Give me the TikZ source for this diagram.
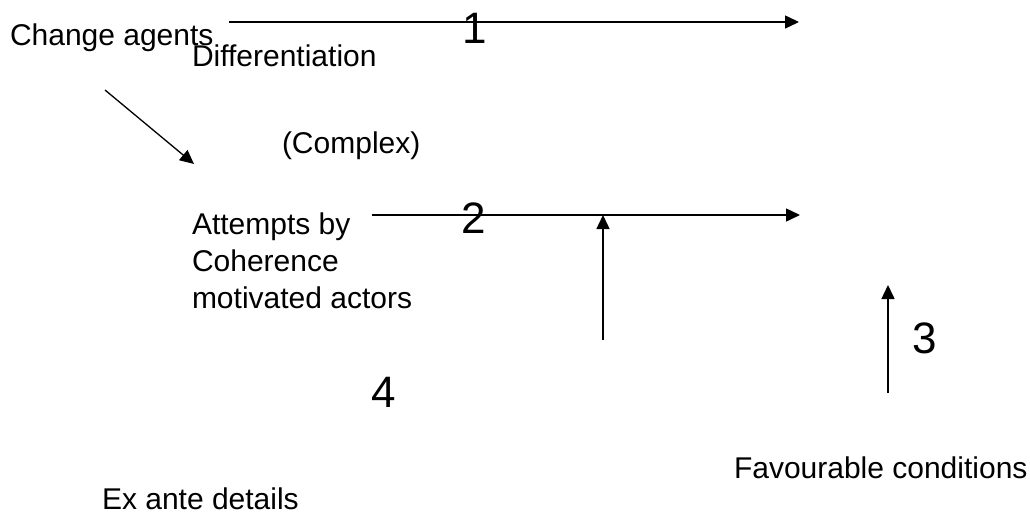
\documentclass[tikz,border=0pt]{standalone}
\usepackage{fontspec}
\setmainfont{Liberation Sans}
\usetikzlibrary{arrows.meta}
\tikzset{
  lbl/.style={anchor=base west, inner sep=0pt, outer sep=0pt, font=\fontsize{30}{36}\selectfont},
  num/.style={anchor=base west, inner sep=0pt, outer sep=0pt, font=\fontsize{44}{50}\selectfont},
  conn/.style={line width=1.5pt, -{Triangle[length=14pt,width=13pt]}},
}
\begin{document}
\begin{tikzpicture}[x=1pt,y=-1pt]
\useasboundingbox[fill=white] (0,0) rectangle (1030,517);
% texts
\node[lbl] (ca) at (10,45) {Change agents};
\node[lbl] (diff) at (192,66) {Differentiation};
\node[lbl] (cplx) at (282,153) {(Complex)};
\node[lbl] (att) at (192,234) {Attempts by};
\node[lbl] (coh) at (192,271) {Coherence};
\node[lbl] (mot) at (192,308) {motivated actors};
\node[lbl] (fav) at (734,478) {Favourable conditions};
\node[lbl, text depth=0pt] (exa) at (102,509) {Ex ante details};
% connector end points
\coordinate (a1s) at (229,22);
\coordinate (a1e) at (799,22);
\coordinate (a2s) at (372,215);
\coordinate (a2e) at (800,215);
\coordinate (dgs) at (105,90);
\coordinate (dge) at (194,164);
\coordinate (vms) at (603,340);
\coordinate (vme) at (603,215);
\coordinate (v3s) at (888,393);
\coordinate (v3e) at (888,285);
% connectors
\draw[conn] (a1s) -- (a1e);
\draw[conn] (a2s) -- (a2e);
\draw[conn, line width=1.3pt] (dgs) -- (dge);
\draw[conn] (vms) -- (vme);
\draw[conn] (v3s) -- (v3e);
% numbers
\node[num] (n1) at (462,43) {1};
\node[num] (n2) at (461,233) {2};
\node[num] (n3) at (912,353) {3};
\node[num] (n4) at (371,407) {4};
\end{tikzpicture}
\end{document}
